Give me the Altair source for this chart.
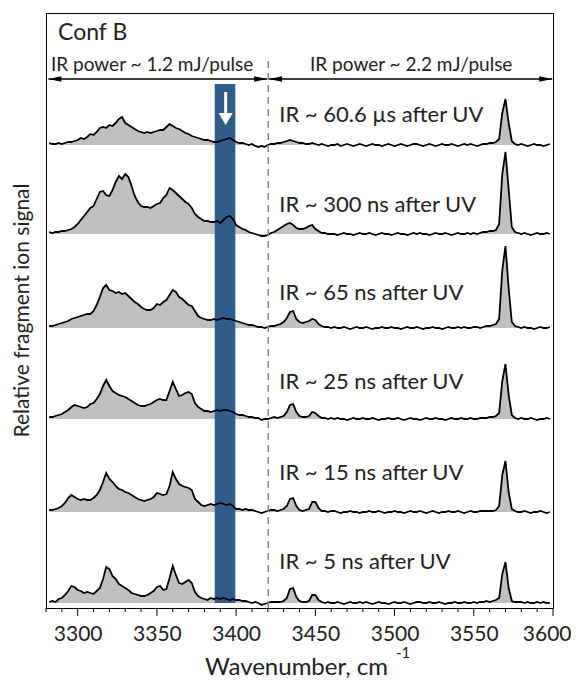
import altair as alt
import pandas as pd

# wavenumber sampling grid (cm^-1), 2 cm^-1 steps
wavenumber = list(range(3282, 3600, 2))

trace_names = ["60.6 us", "300 ns", "65 ns", "25 ns", "15 ns", "5 ns"]
delay_labels = ["IR ~ 60.6 \u00b5s after UV", "IR ~ 300 ns after UV", "IR ~ 65 ns after UV",
                "IR ~ 25 ns after UV", "IR ~ 15 ns after UV", "IR ~ 5 ns after UV"]
offsets = [458, 369, 275, 184, 91, 0]
label_y = [488, 398, 310, 221, 130, 41]

major_ticks = [3300, 3350, 3400, 3450, 3500, 3550, 3600]
minor_ticks = [3280, 3290, 3310, 3320, 3330, 3340, 3360, 3370, 3380, 3390, 3410, 3420,
               3430, 3440, 3460, 3470, 3480, 3490, 3510, 3520, 3530, 3540, 3560, 3570,
               3580, 3590]

sig_60us = [
    2, 1, 1, 2, 1, 2, 3, 3, 4, 5,
    7, 6, 8, 11, 10, 13, 17, 18, 17, 20,
    19, 22, 26, 28, 22, 20, 18, 16, 14, 13,
    12, 13, 12, 13, 14, 15, 15, 18, 21, 19,
    17, 16, 14, 12, 11, 9, 8, 7, 6, 5,
    5, 4, 3, 3, 4, 5, 6, 7, 5, 3,
    2, 2, 1, 0, 1, -1, -2, -1, -2, 0,
    1, 1, 2, 2, 3, 4, 5, 4, 3, 2,
    2, 1, 1, 2, 1, 0, 1, 0, -1, 0,
    0, 1, -1, 0, 1, 0, -1, 0, 1, 0,
    -1, 0, 1, 0, 0, -1, 0, 1, 0, -1,
    0, 1, 0, -1, 0, 1, 1, 0, -1, 0,
    1, 0, -1, 0, 1, 0, 0, 1, 0, -1,
    0, 1, 0, 1, 0, -1, 0, 1, 1, 2,
    2, 3, 6, 32, 46, 22, 4, 1, 0, 1,
    0, -1, 0, 1, 0, 0, -1, 0, 1,
]
sig_300ns = [
    2, 1, 2, 2, 3, 3, 4, 5, 7, 10,
    14, 18, 22, 26, 28, 35, 42, 43, 39, 38,
    44, 52, 58, 55, 60, 57, 48, 38, 32, 28,
    27, 27, 26, 28, 30, 31, 36, 39, 46, 44,
    41, 38, 35, 32, 30, 26, 20, 17, 15, 13,
    13, 12, 12, 13, 11, 14, 17, 18, 15, 9,
    7, 5, 4, 2, 1, 0, -1, -2, -2, -1,
    1, 2, 4, 6, 8, 10, 11, 9, 6, 5,
    5, 6, 8, 9, 5, 3, 1, 1, 0, 0,
    0, -1, 0, 1, 0, 0, -1, 0, 1, 0,
    0, 1, 0, -1, 0, 1, 0, 0, -1, 0,
    1, 0, 0, -1, 0, 1, 0, 1, 0, 0,
    -1, 0, 1, 0, 0, 1, 0, -1, 0, 1,
    0, 0, 1, 0, 1, 0, 1, 2, 2, 3,
    3, 4, 10, 60, 82, 45, 7, 2, 1, 0,
    1, 0, -1, 0, 1, 0, 0, 1, 0,
]
sig_65ns = [
    2, 2, 3, 4, 5, 6, 7, 9, 10, 11,
    12, 13, 14, 14, 17, 23, 31, 40, 43, 38,
    37, 35, 36, 34, 35, 32, 29, 26, 24, 21,
    19, 18, 18, 20, 24, 23, 26, 28, 33, 38,
    36, 31, 29, 26, 23, 22, 17, 12, 10, 9,
    8, 8, 9, 8, 9, 10, 9, 9, 8, 7,
    6, 5, 4, 3, 3, 2, 1, 1, 0, 1,
    2, 2, 3, 4, 6, 10, 16, 17, 9, 6,
    5, 6, 7, 9, 8, 4, 2, 1, 1, 0,
    1, 0, 0, 1, 0, -1, 0, 1, 0, 0,
    1, 0, -1, 0, 0, 1, 0, 0, 1, 0,
    0, -1, 0, 1, 0, 0, 1, 0, -1, 0,
    0, 1, 0, 0, -1, 0, 1, 0, 0, 1,
    0, 1, 0, 0, 1, 1, 0, 1, 2, 2,
    3, 4, 9, 58, 82, 40, 6, 2, 1, 0,
    1, 0, 0, -1, 0, 1, 0, 0, 1,
]
sig_25ns = [
    2, 2, 3, 4, 5, 7, 9, 12, 14, 13,
    12, 11, 12, 15, 16, 20, 25, 33, 39, 33,
    28, 26, 24, 23, 22, 20, 18, 16, 14, 13,
    13, 14, 15, 17, 19, 20, 19, 19, 28, 37,
    30, 23, 24, 26, 27, 25, 16, 12, 10, 8,
    8, 7, 8, 9, 8, 9, 9, 8, 7, 5,
    4, 4, 3, 2, 2, 1, 1, -1, 0, 0,
    1, 2, 1, 2, 3, 7, 14, 15, 7, 3,
    2, 2, 3, 7, 6, 3, 1, 1, 0, 1,
    0, 1, 0, 0, -1, 0, 1, 0, 0, 1,
    0, 0, 1, 0, -1, 0, 0, 1, 0, 0,
    1, 0, -1, 0, 1, 0, 0, -1, 0, 1,
    0, 0, 1, 0, 0, -1, 0, 1, 0, 0,
    1, 0, 0, 1, 0, 0, 1, 1, 1, 2,
    2, 3, 6, 38, 55, 24, 4, 1, 0, 1,
    0, 0, 1, 0, -1, 0, 0, 1, 0,
]
sig_15ns = [
    2, 2, 3, 4, 6, 9, 14, 17, 15, 13,
    12, 13, 12, 12, 14, 17, 22, 30, 39, 33,
    30, 26, 23, 22, 20, 19, 17, 15, 13, 12,
    11, 12, 13, 15, 19, 18, 17, 18, 26, 40,
    33, 28, 26, 25, 24, 22, 13, 10, 7, 6,
    7, 8, 7, 8, 9, 8, 7, 8, 6, 3,
    3, 2, 3, 2, 2, 1, 0, -1, 0, 1,
    2, 2, 1, 2, 3, 6, 13, 14, 6, 2,
    1, 2, 3, 10, 10, 4, 1, 1, 0, 1,
    1, 0, -1, 0, 0, 1, 0, 0, -1, 0,
    0, 1, 0, 0, 1, 0, -1, 0, 0, 1,
    0, 0, -1, 0, 1, 0, 0, 1, 0, -1,
    0, 1, 0, -1, 0, 0, 1, 0, 0, 1,
    0, -1, 0, 1, 0, 0, 1, 1, 1, 1,
    1, 2, 6, 37, 51, 20, 3, 1, 0, 0,
    1, 0, -1, 0, 0, 1, 0, -1, 0,
]
sig_5ns = [
    1, 2, 1, 4, 5, 8, 12, 17, 16, 13,
    12, 10, 11, 10, 9, 12, 15, 24, 36, 34,
    27, 24, 19, 17, 15, 13, 10, 9, 8, 7,
    7, 8, 10, 12, 16, 17, 13, 14, 25, 37,
    28, 20, 19, 21, 23, 20, 11, 7, 5, 4,
    3, 5, 4, 5, 4, 5, 4, 3, 4, 3,
    3, 2, 2, 1, 0, 1, 0, -2, -1, 0,
    1, 1, 1, 1, 2, 5, 14, 15, 6, 2,
    1, 1, 2, 8, 8, 3, 1, 0, 1, 0,
    0, 1, 0, -1, 0, 1, 0, 0, 1, 0,
    1, 0, -1, 0, 1, 0, 0, -1, 0, 1,
    0, 0, 1, 0, -1, 0, 1, 1, 0, 0,
    1, 0, 0, 1, 0, -1, 0, 0, 1, 0,
    0, 1, 0, 0, 1, 0, 1, 1, 2, 1,
    2, 3, 5, 29, 41, 15, 2, 1, 1, 1,
    0, 1, 0, 0, 1, 0, 1, 0, 0,
]
signals = [sig_60us, sig_300ns, sig_65ns, sig_25ns, sig_15ns, sig_5ns]

rows = []
for name, off, sig in zip(trace_names, offsets, signals):
    assert len(sig) == len(wavenumber), (name, len(sig))
    for w, s in zip(wavenumber, sig):
        rows.append({"trace": name, "wn": w, "base": off, "top": off + s})
df = pd.DataFrame(rows)

TXT = "#222222"
H = 595
xscale = alt.Scale(domain=[3280, 3600], nice=False, zero=False)
yscale = alt.Scale(domain=[-5, 590], nice=False, zero=False)

xaxis = alt.Axis(
    values=major_ticks, format="d", ticks=False, domain=False, grid=False,
    labelOverlap=False, labelFlush=True, labelFlushOffset=18,
    labelFontSize=21, labelColor=TXT, labelPadding=15,
    title="Wavenumber, cm", titleFontSize=24, titleFontWeight="normal", titleColor=TXT,
    titleX=250, titleY=59, titleBaseline="middle",
)
yaxis = alt.Axis(
    labels=False, ticks=False, domain=False, grid=False,
    title="Relative fragment ion signal", titleFontSize=21, titleFontWeight="normal",
    titleColor=TXT, titleX=-24, titleY=297, titleBaseline="middle",
)

area = alt.Chart(df).mark_area(color="#c0c0c0").encode(
    x=alt.X("wn:Q", scale=xscale, axis=xaxis),
    y=alt.Y("top:Q", scale=yscale, axis=yaxis),
    y2="base:Q",
    detail="trace:N",
)
line = alt.Chart(df).mark_line(color="black", strokeWidth=1.8).encode(
    x="wn:Q", y="top:Q", detail="trace:N"
)

major_rules = alt.Chart(pd.DataFrame({"t": major_ticks})).mark_rule(
    color="black", strokeWidth=1
).encode(x="t:Q", y=alt.value(H), y2=alt.value(H + 8))
minor_rules = alt.Chart(pd.DataFrame({"t": minor_ticks})).mark_rule(
    color="black", strokeWidth=1
).encode(x="t:Q", y=alt.value(H), y2=alt.value(H + 4))

band = alt.Chart(pd.DataFrame({"x1": [3386.5], "x2": [3399.5], "y1": [0], "y2": [519]})).mark_rect(
    color="#2f5c88"
).encode(x="x1:Q", x2="x2:Q", y="y1:Q", y2="y2:Q")

white_shaft = alt.Chart(pd.DataFrame({"x": [3393.4], "y1": [511], "y2": [486]})).mark_rule(
    color="white", strokeWidth=3
).encode(x="x:Q", y="y1:Q", y2="y2:Q")
white_head = alt.Chart(pd.DataFrame({"x": [3393.4], "y": [484]})).mark_point(
    shape="triangle-down", filled=True, color="white", opacity=1, size=200
).encode(x="x:Q", y="y:Q")

dashed = alt.Chart(pd.DataFrame({"x": [3420.3], "y1": [-5], "y2": [546]})).mark_rule(
    color="#8a8a8a", strokeWidth=1.5, strokeDash=[7, 5]
).encode(x="x:Q", y="y1:Q", y2="y2:Q")

arrow_df = pd.DataFrame({"x1": [3281.5, 3420.8], "x2": [3419.6, 3599.5], "y": [524, 524]})
arrow_lines = alt.Chart(arrow_df).mark_rule(color="black", strokeWidth=1.3).encode(
    x="x1:Q", x2="x2:Q", y="y:Q"
)
left_head_path = "M-1,0 L1,-0.42 L1,0.42 Z"
right_head_path = "M1,0 L-1,-0.42 L-1,0.42 Z"
heads_left = alt.Chart(pd.DataFrame({"x": [3285.6, 3424.9], "y": [524, 524]})).mark_point(
    shape=left_head_path, filled=True, color="black", opacity=1, size=169
).encode(x="x:Q", y="y:Q")
heads_right = alt.Chart(pd.DataFrame({"x": [3415.5, 3595.4], "y": [524, 524]})).mark_point(
    shape=right_head_path, filled=True, color="black", opacity=1, size=169
).encode(x="x:Q", y="y:Q")

power_df = pd.DataFrame({
    "x": [3347, 3510.5], "y": [538, 538],
    "t": ["IR power ~ 1.2 mJ/pulse", "IR power ~ 2.2 mJ/pulse"],
})
power_text = alt.Chart(power_df).mark_text(fontSize=19, color=TXT, align="center").encode(
    x="x:Q", y="y:Q", text="t:N"
)

conf_text = alt.Chart(pd.DataFrame({"x": [3287.6], "y": [570], "t": ["Conf B"]})).mark_text(
    fontSize=23, color=TXT, align="left"
).encode(x="x:Q", y="y:Q", text="t:N")

delay_df = pd.DataFrame({"x": [3427.2] * 6, "y": label_y, "t": delay_labels})
delay_text = alt.Chart(delay_df).mark_text(fontSize=22, color=TXT, align="left").encode(
    x="x:Q", y="y:Q", text="t:N"
)

sup_text = alt.Chart(pd.DataFrame({"t": ["-1"]})).mark_text(
    fontSize=15, color=TXT, align="left"
).encode(x=alt.value(350), y=alt.value(640), text="t:N")

chart = alt.layer(
    area, band, line, dashed, white_shaft, white_head,
    arrow_lines, heads_left, heads_right, major_rules, minor_rules,
    power_text, conf_text, delay_text, sup_text,
).properties(
    width=507, height=H,
    autosize=alt.AutoSizeParams(type="none"),
    padding={"left": 38, "top": 5, "right": 18, "bottom": 72},
).configure(font="Lato").configure_view(stroke="black", strokeWidth=1)

chart.save("out.html", embed_options={"renderer": "svg", "actions": False})
